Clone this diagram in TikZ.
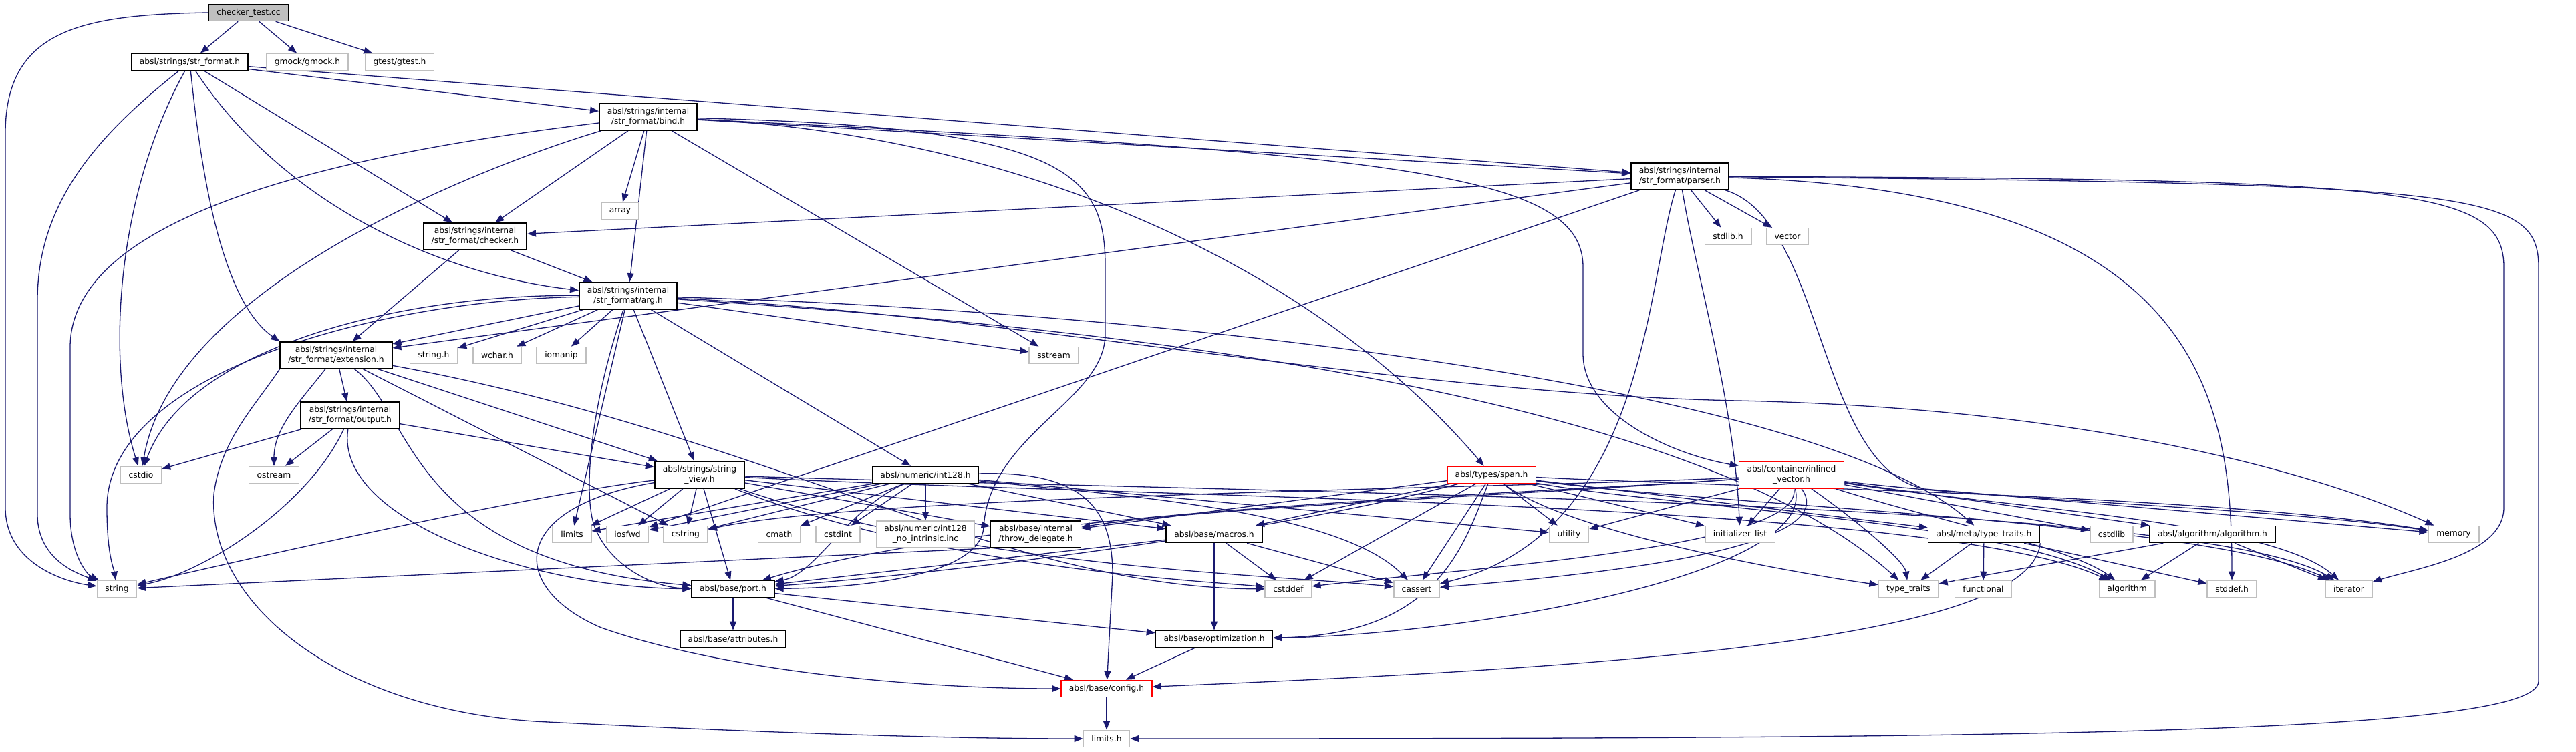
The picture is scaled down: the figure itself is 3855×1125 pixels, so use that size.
\documentclass[tikz,border=0pt]{standalone}
\usepackage{fontspec}
\setmainfont{DejaVu Sans}
\usetikzlibrary{arrows.meta,backgrounds}
\definecolor{edgeblue}{RGB}{25,25,112}
\definecolor{sysgray}{RGB}{191,191,191}

\begin{document}
\begin{tikzpicture}[
  x=1pt, y=-1pt,
  font=\fontsize{12.3}{15}\selectfont,
  hdr/.style={rectangle, draw=black, fill=white, line width=1.6pt,
              inner xsep=12pt, inner ysep=0pt, minimum height=25pt, align=center},
  sys/.style={hdr, draw=sysgray},
  trunc/.style={hdr, draw=red},
  rootbox/.style={hdr, fill=sysgray},
  two/.style={minimum height=40pt},
  dep/.style={draw=edgeblue, line width=1.3pt, -{Triangle[length=13pt,width=10pt]}}
]
\useasboundingbox (0,0) rectangle (3855,1125);
\node[rootbox] (root) at (372,19) {checker\_test.cc};
\node[hdr] (strformat) at (284,93) {absl/strings/str\_format.h};
\node[sys] (gmock) at (460,93) {gmock/gmock.h};
\node[sys] (gtest) at (598,93) {gtest/gtest.h};
\node[hdr, two] (bind) at (970,175) {absl/strings/internal\\/str\_format/bind.h};
\node[hdr, two] (parser) at (2514,264) {absl/strings/internal\\/str\_format/parser.h};
\node[sys] (array) at (928,316) {array};
\node[sys] (stdlibh) at (2586,354) {stdlib.h};
\node[sys] (vector) at (2675,354) {vector};
\node[hdr, two] (checker) at (711,354) {absl/strings/internal\\/str\_format/checker.h};
\node[hdr, two] (arg) at (940,443) {absl/strings/internal\\/str\_format/arg.h};
\node[hdr, two] (extension) at (503,532) {absl/strings/internal\\/str\_format/extension.h};
\node[sys] (stringh) at (649,532) {string.h};
\node[sys] (wcharh) at (744,532) {wchar.h};
\node[sys] (iomanip) at (840,532) {iomanip};
\node[sys] (sstream) at (1577,532) {sstream};
\node[hdr, two] (output) at (524,622) {absl/strings/internal\\/str\_format/output.h};
\node[sys] (cstdio) at (211,711) {cstdio};
\node[sys] (ostream) at (410,711) {ostream};
\node[hdr, two] (stringview) at (1047,711) {absl/strings/string\\\_view.h};
\node[hdr] (int128) at (1385,711) {absl/numeric/int128.h};
\node[trunc] (span) at (2232,711) {absl/types/span.h};
\node[trunc, two] (inlined) at (2681,711) {absl/container/inlined\\\_vector.h};
\node[sys] (limits) at (856,800) {limits};
\node[sys] (iosfwd) at (939,800) {iosfwd};
\node[sys] (cstring) at (1026,800) {cstring};
\node[sys] (cmath) at (1166,800) {cmath};
\node[sys] (cstdint) at (1254,800) {cstdint};
\node[sys, two] (nointrin) at (1385,800) {absl/numeric/int128\\\_no\_intrinsic.inc};
\node[hdr, two] (throwdel) at (1550,800) {absl/base/internal\\/throw\_delegate.h};
\node[hdr] (macros) at (1817,800) {absl/base/macros.h};
\node[sys] (utility) at (2348,800) {utility};
\node[sys] (initlist) at (2604,800) {initializer\_list};
\node[hdr] (metatt) at (2969,800) {absl/meta/type\_traits.h};
\node[sys] (cstdlib) at (3160,800) {cstdlib};
\node[hdr] (algoh) at (3311,800) {absl/algorithm/algorithm.h};
\node[sys] (memory) at (3672,800) {memory};
\node[sys] (string) at (175,882) {string};
\node[hdr] (port) at (1097,882) {absl/base/port.h};
\node[sys] (cstddef) at (1928,882) {cstddef};
\node[sys] (cassert) at (2120,882) {cassert};
\node[sys] (typetraits) at (2856,882) {type\_traits};
\node[sys] (functional) at (2968,882) {functional};
\node[sys] (algorithm) at (3183,882) {algorithm};
\node[sys] (stddefh) at (3340,882) {stddef.h};
\node[sys] (iterator) at (3515,882) {iterator};
\node[hdr] (attributes) at (1097,957) {absl/base/attributes.h};
\node[hdr] (optimization) at (1817,957) {absl/base/optimization.h};
\node[trunc] (config) at (1656,1031) {absl/base/config.h};
\node[sys] (limitsh) at (1656,1106) {limits.h};
\begin{scope}[on background layer]
\fill[white] (0,0) rectangle (3855,1125);
\draw[dep] (root) -- (strformat);
\draw[dep] (root) -- (gmock);
\draw[dep] (root) -- (gtest);
\draw[dep] (root.west) .. controls (120,22) and (8,45) .. (8,200) -- (8,760) .. controls (8,840) and (90,870) .. (string);
\draw[dep] (strformat) .. controls (150,200) and (56,300) .. (56,450) -- (56,770) .. controls (56,840) and (120,860) .. (string);
\draw[dep] (strformat) .. controls (170,300) and (160,550) .. (cstdio);
\draw[dep] (strformat) .. controls (300,250) and (330,450) .. (extension.north west);
\draw[dep] (strformat) -- (checker);
\draw[dep] (strformat) .. controls (420,300) and (650,410) .. (arg);
\draw[dep] (strformat) -- (bind);
\draw[dep] (strformat) -- (parser);
\draw[dep] (bind) -- (array);
\draw[dep] (bind) .. controls (750,240) and (260,420) .. (cstdio);
\draw[dep] (bind) -- (sstream);
\draw[dep] (bind) .. controls (600,220) and (105,300) .. (105,520) -- (105,770) .. controls (105,830) and (130,860) .. (string);
\draw[dep] (bind) .. controls (1600,190) and (1654,260) .. (1654,400) -- (1654,500) .. controls (1654,600) and (1480,650) .. (1472,790) .. controls (1466,860) and (1300,880) .. (port);
\draw[dep] (bind) .. controls (2100,230) and (2369,260) .. (2369,400) -- (2369,530) .. controls (2369,620) and (2500,680) .. (inlined);
\draw[dep] (bind) -- (arg);
\draw[dep] (bind) -- (checker);
\draw[dep] (bind) -- (parser);
\draw[dep] (bind) .. controls (1500,200) and (1950,380) .. (span);
\draw[dep] (parser) -- (checker);
\draw[dep] (parser) -- (extension);
\draw[dep] (parser) -- (iosfwd);
\draw[dep] (parser) .. controls (2464,420) and (2464,800) .. (cassert);
\draw[dep] (parser) .. controls (2540,420) and (2595,600) .. (initlist);
\draw[dep] (parser) -- (stdlibh);
\draw[dep] (parser) -- (vector);
\draw[dep] (parser) .. controls (2730,330) and (2720,700) .. (2880,732) -- (memory);
\draw[dep] (parser) .. controls (3600,268) and (3747,280) .. (3747,400) -- (3747,760) .. controls (3747,830) and (3620,850) .. (iterator);
\draw[dep] (parser) .. controls (3700,275) and (3799,285) .. (3799,400) -- (3799,1020) .. controls (3799,1100) and (3000,1106) .. (limitsh);
\draw[dep] (parser) .. controls (3300,285) and (3340,600) .. (stddefh);
\draw[dep] (checker) -- (arg);
\draw[dep] (checker) -- (extension);
\draw[dep] (arg) -- (stringh);
\draw[dep] (arg) -- (wcharh);
\draw[dep] (arg) -- (iomanip);
\draw[dep] (arg) .. controls (600,440) and (280,520) .. (cstdio);
\draw[dep] (arg) -- (limits);
\draw[dep] (arg) .. controls (1500,470) and (2100,590) .. (2600,600) .. controls (3100,610) and (3450,700) .. (memory);
\draw[dep] (arg) -- (sstream);
\draw[dep] (arg) .. controls (560,450) and (160,560) .. (160,760) .. controls (160,830) and (170,850) .. (string);
\draw[dep] (arg) .. controls (1500,480) and (2500,560) .. (typetraits);
\draw[dep] (arg) .. controls (880,620) and (870,760) .. (895,800) .. controls (920,850) and (980,880) .. (port);
\draw[dep] (arg) .. controls (1600,460) and (2700,560) .. (metatt);
\draw[dep] (arg) -- (int128);
\draw[dep] (arg) -- (extension);
\draw[dep] (arg) -- (stringview);
\draw[dep] (extension.south west) .. controls (380,610) and (330,660) .. (320,740) .. controls (310,900) and (500,1060) .. (800,1080) .. controls (1200,1100) and (1450,1106) .. (limitsh);
\draw[dep] (extension) .. controls (1150,650) and (1500,880) .. (cstddef);
\draw[dep] (extension) -- (cstring);
\draw[dep] (extension) .. controls (450,600) and (410,640) .. (ostream);
\draw[dep] (extension) .. controls (620,620) and (610,840) .. (port);
\draw[dep] (extension) -- (output);
\draw[dep] (extension) -- (stringview);
\draw[dep] (output) -- (cstdio);
\draw[dep] (output) -- (ostream);
\draw[dep] (output) .. controls (460,760) and (300,860) .. (string);
\draw[dep] (output) .. controls (500,780) and (800,880) .. (port);
\draw[dep] (output) -- (stringview);
\draw[dep] (stringview) .. controls (1700,745) and (2900,750) .. (algorithm);
\draw[dep] (stringview) .. controls (1450,850) and (1900,860) .. (cassert);
\draw[dep] (stringview) .. controls (1400,850) and (1800,870) .. (cstddef);
\draw[dep] (stringview) -- (cstring);
\draw[dep] (stringview) -- (iosfwd);
\draw[dep] (stringview) .. controls (2000,740) and (3300,750) .. (iterator);
\draw[dep] (stringview) -- (limits);
\draw[dep] (stringview) .. controls (800,740) and (400,830) .. (string);
\draw[dep] (stringview) -- (throwdel);
\draw[dep] (stringview) -- (macros);
\draw[dep] (stringview) -- (port);
\draw[dep] (stringview) .. controls (760,760) and (760,880) .. (900,940) .. controls (1100,1010) and (1400,1031) .. (config);
\draw[dep] (int128) .. controls (1650,740) and (2000,760) .. (cassert);
\draw[dep] (int128) -- (cmath);
\draw[dep] (int128) -- (cstdint);
\draw[dep] (int128) -- (cstring);
\draw[dep] (int128) -- (iosfwd);
\draw[dep] (int128) -- (limits);
\draw[dep] (int128) -- (utility);
\draw[dep] (int128) .. controls (1620,705) and (1665,760) .. (1665,860) -- (config);
\draw[dep] (int128) -- (macros);
\draw[dep] (int128) .. controls (1270,760) and (1220,860) .. (port);
\draw[dep] (int128) -- (nointrin);
\draw[dep] (throwdel.south west) -- (string);
\draw[dep] (macros) -- (cassert);
\draw[dep] (macros) -- (cstddef);
\draw[dep] (macros) -- (optimization);
\draw[dep] (macros) -- (port);
\draw[dep] (port) -- (attributes);
\draw[dep] (port) -- (config);
\draw[dep] (port) -- (optimization);
\draw[dep] (optimization) -- (config);
\draw[dep] (config) -- (limitsh);
\draw[dep] (span) .. controls (2500,760) and (3000,780) .. (algorithm);
\draw[dep] (span) -- (cassert);
\draw[dep] (span) -- (cstddef);
\draw[dep] (span) -- (initlist);
\draw[dep] (span) .. controls (2600,760) and (3300,780) .. (iterator);
\draw[dep] (span) .. controls (2600,730) and (3300,740) .. (memory);
\draw[dep] (span) .. controls (2350,800) and (2700,860) .. (typetraits);
\draw[dep] (span) -- (utility);
\draw[dep] (span) -- (throwdel);
\draw[dep] (span) -- (macros);
\draw[dep] (span) .. controls (2190,820) and (2150,950) .. (optimization);
\draw[dep] (span) .. controls (1900,800) and (1400,860) .. (port);
\draw[dep] (span) -- (metatt);
\draw[dep] (inlined) .. controls (2900,780) and (3100,820) .. (algorithm);
\draw[dep] (inlined) .. controls (2760,820) and (2400,860) .. (cassert);
\draw[dep] (inlined) .. controls (2700,820) and (2200,850) .. (cstddef);
\draw[dep] (inlined) -- (cstdlib);
\draw[dep] (inlined) .. controls (2300,730) and (1300,740) .. (cstring);
\draw[dep] (inlined) -- (initlist);
\draw[dep] (inlined) .. controls (3000,760) and (3400,780) .. (iterator);
\draw[dep] (inlined) .. controls (3000,750) and (3400,760) .. (memory);
\draw[dep] (inlined) .. controls (2780,780) and (2850,840) .. (typetraits);
\draw[dep] (inlined) -- (utility);
\draw[dep] (inlined) -- (algoh);
\draw[dep] (inlined) .. controls (2300,740) and (1800,760) .. (throwdel);
\draw[dep] (inlined) .. controls (2720,860) and (2200,950) .. (optimization);
\draw[dep] (inlined) .. controls (2300,740) and (1500,760) .. (port);
\draw[dep] (metatt) -- (stddefh);
\draw[dep] (metatt) -- (functional);
\draw[dep] (metatt) -- (typetraits);
\draw[dep] (metatt.south east) .. controls (3040,960) and (2400,1000) .. (config);
\draw[dep] (algoh) -- (algorithm);
\draw[dep] (algoh) -- (iterator);
\draw[dep] (algoh) -- (typetraits);
\end{scope}
\end{tikzpicture}
\end{document}
